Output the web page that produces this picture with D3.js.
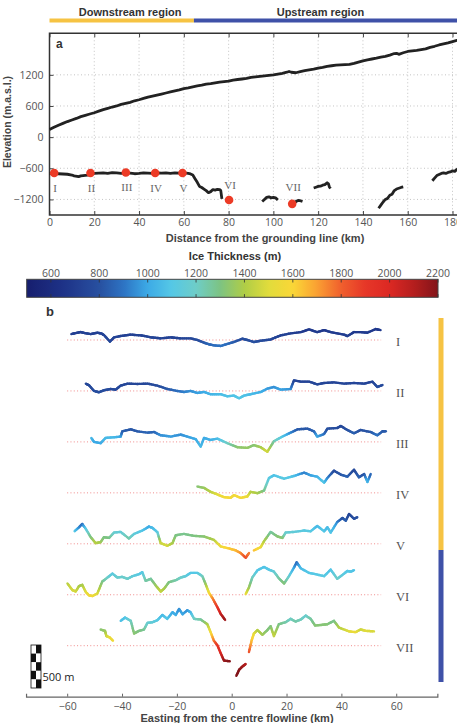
<!DOCTYPE html>
<html><head><meta charset="utf-8">
<script src="https://cdn.jsdelivr.net/npm/d3@7"></script>
<style>body{margin:0;background:#fff}svg{display:block}</style>
</head><body><svg id="c" width="457" height="723"></svg>
<script>
// ---------------- DATA ----------------
const distTicks = [0,20,40,60,80,100,120,140,160,180];
const elevTicks = [-1200,-600,0,600,1200];
const thickTicks = [600,800,1000,1200,1400,1600,1800,2000,2200];
const eastTicks = [-60,-40,-20,0,20,40,60];

const regionNames = ["Downstream region","Upstream region"];
const regionStartKm = [0,64.5];
const regionEndKm = [64.5,184];
const regionLabelKm = [36,121];
const regionColors = ["#f6c343","#3f51a8"];

// surface elevation (km, m a.s.l.)
const surface = [[0,146],[2,190],[4,230],[6,265],[8,300],[10,330],[12,360],[14,395],[16,420],[18,445],[20,470],[22,500],[24,530],[26,555],[28,580],[30,600],[32,630],[34,650],[36,670],[38,700],[40,720],[42,745],[44,770],[46,790],[48,810],[50,830],[52,850],[54,870],[56,890],[58,910],[60,935],[62,950],[64,970],[66,985],[68,1000],[70,1020],[72,1030],[74,1045],[76,1060],[78,1070],[80,1080],[82,1100],[84,1110],[86,1120],[88,1130],[90,1150],[92,1160],[94,1170],[96,1180],[98,1190],[100,1200],[102,1215],[104,1230],[106,1250],[107,1265],[108,1250],[110,1240],[112,1260],[114,1280],[116,1295],[118,1310],[120,1330],[122,1345],[124,1365],[126,1375],[128,1385],[130,1390],[132,1395],[134,1400],[136,1420],[138,1445],[140,1470],[142,1490],[144,1505],[146,1520],[148,1540],[150,1555],[152,1580],[154,1610],[155,1615],[156,1595],[158,1625],[160,1650],[162,1660],[164,1670],[166,1685],[168,1700],[170,1730],[172,1750],[174,1775],[176,1795],[178,1815],[180,1840],[182,1865],[184,1880]];

// bed elevation segments (km, m a.s.l.)
const bed1 = [[0,-700],[2,-700],[4,-705],[6,-710],[8,-715],[10,-730],[11,-745],[13,-760],[14,-745],[15,-740],[17,-730],[19,-710],[20,-700],[22,-695],[24,-690],[26,-700],[28,-685],[30,-690],[32,-700],[34,-690],[36,-695],[38,-705],[40,-700],[42,-690],[44,-695],[46,-700],[48,-690],[50,-695],[52,-690],[54,-700],[56,-690],[58,-695],[60,-690],[62,-700],[63,-710],[64,-730],[65,-800],[66,-870],[67,-950],[68,-970],[69,-1000],[70,-1030],[71,-1070],[72,-1050],[73,-1010],[74,-1020],[75,-1005],[76,-1010],[76.5,-1030],[77,-1190]];
const bed2 = [[95,-1240],[96,-1200],[97,-1160],[98,-1150],[99,-1170],[100,-1160],[101,-1170],[102,-1210]];
const bed3 = [[108.8,-1280],[109.5,-1260],[110.3,-1235],[111,-1220],[112,-1225],[113,-1240]];
const bed4 = [[118,-980],[119,-965],[120,-950],[121,-945],[122,-925],[123,-915],[124,-880],[124.6,-900],[125,-960],[125.5,-990]];
const bed5 = [[147,-1370],[148,-1310],[149,-1250],[150,-1200],[151,-1180],[152,-1120],[153,-1100],[154,-1030],[155,-1000],[156,-985],[157,-970],[158,-960]];
const bed6 = [[171,-840],[172,-790],[173,-740],[174,-720],[175,-700],[176,-690],[177,-700],[178,-680],[179,-670],[180,-650],[181,-660],[182,-620],[184,-600]];

const sites = ["I","II","III","IV","V","VI","VII"];
const siteKm = [2.1,18.3,34.1,47.2,59.4,80.2,108.4];
const siteElev = [-690,-690,-680,-690,-690,-1210,-1285];

// profiles: segments of [easting km, relief m, ice thickness m]
const profI = [[[-58.5,69,720],[-57,80,720],[-55.1,92,720],[-53.5,80,725],[-51.4,69,730],[-49.0,85,720],[-47.5,75,730],[-46.6,58,740],[-44.4,-19,760],[-42.9,31,740],[-40.5,46,730],[-38.5,55,725],[-36.8,62,720],[-33.2,54,730],[-31.5,45,735],[-29.5,31,740],[-27.5,25,740],[-25.9,19,740],[-22.2,31,730],[-20.5,25,735],[-18.6,19,740],[-15.0,19,750],[-12.5,0,780],[-10.1,-31,820],[-8.3,-50,860],[-6.5,-62,880],[-4.0,-69,900],[-1.6,-46,880],[0.8,-23,840],[3.9,15,780],[5.7,0,790],[8.1,-23,800],[10.6,-8,780],[14.2,6,760],[16,30,745],[17.9,54,730],[21.5,77,720],[25.2,92,700],[28.2,123,680],[31.2,92,700],[33.7,115,680],[36.1,92,700],[38.5,77,700],[41.0,62,710],[42.2,46,720],[44.6,92,690],[47.0,92,690],[49.5,85,700],[52.5,127,680],[54.3,115,690]]];
const profII = [[[-53.2,85,760],[-52.0,65,760],[-50.2,0,780],[-48.4,-15,790],[-46.6,8,780],[-44.1,23,770],[-42.3,15,770],[-40.5,62,760],[-38.0,85,750],[-34.4,81,750],[-30.7,85,760],[-27.1,62,780],[-23.5,23,820],[-19.8,0,880],[-17.4,-12,920],[-15.0,0,950],[-12.5,-23,980],[-10.1,-12,1000],[-7.7,-38,1030],[-4.0,-38,1060],[-1.6,-62,1080],[0.8,-54,1080],[2.7,-85,1100],[4.5,-54,1080],[6.9,-38,1060],[10.6,-12,1020],[13.0,27,980],[15.4,46,950],[17.9,15,990],[21.5,23,960],[22.7,123,760],[25.2,108,740],[28.2,108,740],[31.2,77,760],[33.7,92,750],[37.3,100,740],[41.0,85,750],[44.6,92,750],[48.3,85,750],[51.3,108,740],[53.1,46,790],[55.0,69,770]]];
const profIII = [[[-51.2,46,1050],[-50.2,0,1000],[-47.8,-15,1000],[-46.0,46,1050],[-42.9,54,1050],[-40.5,62,1000],[-39.9,123,850],[-36.8,146,820],[-34.4,123,830],[-30.7,108,860],[-28.3,115,860],[-25.9,77,950],[-22.2,62,980],[-18.6,85,950],[-16.2,62,980],[-13.1,31,1000],[-11.3,-54,1050],[-10.1,46,1000],[-7.7,23,1020],[-5.2,38,1050],[-1.6,-15,1200],[2.1,-62,1330],[5.7,-69,1350],[8.1,-38,1320],[10.6,-62,1380],[13.0,-115,1480],[15.4,8,1250],[18.5,62,1100],[21.5,108,950],[24.0,146,830],[27.6,154,820],[30.0,123,850],[31.2,62,1000],[33.7,92,900],[34.9,154,800],[38.5,162,790],[39.8,185,760],[42.2,138,800],[44.6,100,850],[47.0,138,800],[50.7,115,820],[53.1,77,900],[55.0,123,830],[56.2,123,830]]];
const profIV = [[[-12.5,73,1320],[-10.1,58,1350],[-7.7,12,1420],[-5.2,-19,1500],[-2.8,-50,1560],[-0.4,-58,1580],[0.8,-27,1560],[3.3,-58,1580],[5.7,-42,1550],[6.9,12,1420],[9.4,-4,1400],[11.8,27,1300],[13.6,173,1120],[15.4,204,1080],[19.1,165,1120],[22.7,196,1080],[26.4,235,920],[28.8,204,980],[31.2,188,1020],[33.7,119,1100],[34.9,173,950],[37.3,258,780],[39.8,212,820],[42.2,188,860],[44.6,269,760],[46.4,181,850],[48.3,219,800],[49.5,127,1050],[50.7,219,850]]];
const profV = [
 [[-57.3,146,1120],[-55.7,192,950],[-54.5,231,880],[-53.2,173,1100],[-51.4,77,1300],[-49.6,8,1420],[-47.8,19,1380],[-46.6,77,1300],[-44.7,69,1300],[-42.9,131,1180],[-40.5,138,1150],[-37.5,62,1250],[-35.6,115,1150],[-32.6,154,1100],[-30.2,200,1000],[-28.9,185,1050],[-27.1,135,1100],[-25.9,8,1450],[-23.5,-23,1480],[-21.6,8,1400],[-20.4,100,1300],[-17.4,115,1280],[-13.7,92,1300],[-10.1,85,1320],[-6.5,46,1400],[-4.0,-31,1550],[-1.0,-54,1620],[1.5,-77,1650],[3.3,-108,1720],[5.1,-162,1850],[6.3,-108,1750]],
 [[8.1,-77,1650],[10.6,-38,1550],[11.8,31,1420],[14.2,138,1250],[16.7,85,1320],[18.5,69,1330],[19.7,131,1180],[22.7,138,1150],[26.4,154,1120],[28.8,146,1120],[31.2,208,1050],[33.7,146,1100],[34.9,192,1050],[36.1,131,1100],[38.5,254,950],[40.4,300,800],[41.6,269,850],[42.8,346,750],[44.6,292,800],[45.8,308,800]]];
const profVI = [
 [[-59.9,131,1420],[-58.1,54,1480],[-56.9,38,1480],[-55.7,100,1400],[-54.5,115,1380],[-53.2,31,1500],[-52.0,-8,1560],[-50.8,-15,1560],[-49.0,15,1500],[-47.2,154,1300],[-45.3,200,1200],[-43.5,246,1120],[-41.7,200,1180],[-39.9,208,1180],[-38.0,185,1200],[-36.2,216,1150],[-33.8,239,1120],[-32.6,262,1100],[-31.4,162,1250],[-29.5,185,1250],[-27.7,108,1350],[-25.9,38,1450],[-24.7,69,1400],[-22.9,146,1300],[-20.4,169,1250],[-18.6,200,1200],[-16.8,216,1150],[-15.0,254,1100],[-12.5,254,1100],[-10.7,216,1200],[-9.5,123,1350],[-8.3,23,1550],[-7.0,-40,1720],[-5.2,-146,1900],[-4.0,-223,2050],[-2.4,-292,2150]],
 [[5.1,8,1550],[6.3,85,1380],[7.5,200,1220],[9.4,285,1100],[11.8,323,1080],[13.6,292,1100],[15.4,269,1150],[17.2,192,1250],[19.1,131,1320],[20.9,216,1180],[22.7,315,1000],[23.7,377,880],[25.2,308,1050],[28.2,254,1100],[30.6,239,1100],[33.7,216,1120],[36.1,292,1080],[38.5,185,1200],[41.0,246,1120],[42.2,277,1100],[43.4,269,1100],[44.6,285,1080]]];
const profVII = [
 [[-47.8,188,1320],[-46.2,173,1350],[-45.7,112,1450],[-44.5,96,1520],[-43.3,58,1560]],
 [[-40.5,289,1080],[-38.9,327,1080],[-36.8,289,1200],[-35.6,142,1330],[-33.8,173,1300],[-32.0,188,1280],[-30.7,266,1180],[-28.9,273,1150],[-27.1,297,1120],[-25.3,358,1050],[-23.5,312,1100],[-21.6,389,1000],[-20.4,358,1020],[-19.2,427,950],[-17.9,366,1000],[-16.2,412,960],[-15.0,389,1020],[-13.7,312,1200],[-11.3,304,1250],[-8.9,251,1380],[-7.7,158,1550],[-6.5,58,1750],[-5.2,4,1900],[-4.0,-89,2000],[-2.8,-173,2150],[-0.7,-181,2200]],
 [[1.7,-350,2200],[2.7,-281,2200],[3.9,-242,2150],[5.1,-212,2100]],
 [[6.3,-73,1850],[7.3,65,1650],[8.1,142,1530],[9.4,181,1420],[11.2,127,1380],[13.0,181,1320],[14.2,227,1300],[15.4,112,1450],[17.2,250,1300],[19.7,274,1250],[21.5,312,1200],[23.3,281,1250],[25.2,304,1220],[27.0,350,1180],[28.8,312,1250],[30.4,235,1320],[33.1,243,1320],[34.9,250,1320],[37.3,289,1280],[39.1,212,1400],[42.8,166,1500],[45.2,158,1550],[47.0,189,1450],[48.9,173,1500],[51.9,166,1480]]];
const profiles = [profI,profII,profIII,profIV,profV,profVI,profVII];

// jet-like colormap stops
const cmapValues = [500,650,800,900,1000,1100,1200,1300,1400,1500,1600,1700,1800,1900,2000,2100,2200];
const cmapColors = ["#161e6e","#1e3287","#2850a0","#2d73c3","#3caae6","#55c8e6","#6ecdc8","#7dc382","#afcd46","#e1dc3c","#fad737","#faa032","#f05f2d","#e63728","#dc2823","#b41e1e","#821419"];

// ---------------- DRAW ----------------
const svg = d3.select("#c");
const tickFont = "'Open Sans', 'DejaVu Sans', sans-serif";
const boldFont = "'Liberation Sans', Arial, sans-serif";
const color = d3.scaleLinear().domain(cmapValues).range(cmapColors).interpolate(d3.interpolateRgb).clamp(true);
const numFmt = d3.format("d");

// Panel a scales
const xA = d3.scaleLinear().domain([0,184]).range([49.5, 49.5+184*2.2389]);
const yA = d3.scaleLinear().domain([-1500,2000]).range([215,33.3]);

// region bar
const gReg = svg.append("g");
regionNames.forEach((n,i)=>{
  gReg.append("rect").attr("x",xA(regionStartKm[i])).attr("y",18.5)
    .attr("width",xA(regionEndKm[i])-xA(regionStartKm[i])).attr("height",4).attr("fill",regionColors[i]);
  gReg.append("text").attr("x",xA(regionLabelKm[i])).attr("y",16).attr("text-anchor","middle")
    .attr("font-family",boldFont).attr("font-weight","bold").attr("font-size",11).attr("fill","#333").text(n);
});

// grid
const gA = svg.append("g");
gA.selectAll(".gx").data(distTicks).join("line").attr("x1",d=>xA(d)).attr("x2",d=>xA(d))
  .attr("y1",33.3).attr("y2",215).attr("stroke","#b5b5b5").attr("stroke-width",0.8).attr("stroke-dasharray","1,2.5");
gA.selectAll(".gy").data(elevTicks).join("line").attr("y1",d=>yA(d)).attr("y2",d=>yA(d))
  .attr("x1",49.5).attr("x2",470).attr("stroke","#b5b5b5").attr("stroke-width",0.8).attr("stroke-dasharray","1,2.5");

// axes
function styleAxis(g){
  g.select(".domain").remove();
  g.selectAll("line").attr("stroke","#444");
  g.selectAll("text").attr("font-family",tickFont).attr("font-size",10.5).attr("fill","#555");
}
gA.append("g").attr("transform","translate(0,215)").call(d3.axisBottom(xA).tickValues(distTicks).tickSize(-4).tickPadding(4).tickFormat(numFmt)).call(styleAxis);
gA.append("g").attr("transform","translate(0,33.3)").call(d3.axisTop(xA).tickValues(distTicks).tickSize(-4).tickFormat("")).call(styleAxis);
gA.append("g").attr("transform","translate(49.5,0)").call(d3.axisLeft(yA).tickValues(elevTicks).tickSize(-4).tickPadding(6).tickFormat(numFmt)).call(styleAxis);

// frame
gA.append("path").attr("d",`M470,33.3H49.5V215H470`).attr("fill","none").attr("stroke","#333").attr("stroke-width",1.5);

// lines
const lineA = d3.line().x(d=>xA(d[0])).y(d=>yA(d[1]));
[surface,bed1,bed2,bed3,bed4,bed5,bed6].forEach(s=>{
  gA.append("path").attr("d",lineA(s)).attr("fill","none").attr("stroke","#222").attr("stroke-width",2.8).attr("stroke-linejoin","round");
});
// sites
gA.selectAll(".site").data(sites).join("circle").attr("cx",(d,i)=>xA(siteKm[i])).attr("cy",(d,i)=>yA(siteElev[i]))
  .attr("r",4.3).attr("fill","#ec3b26");
const siteDy = [15,15,15,15,15,-15,-17];
gA.selectAll(".sl").data(sites).join("text").attr("x",(d,i)=>xA(siteKm[i])+1).attr("y",(d,i)=>yA(siteElev[i])+siteDy[i])
  .attr("dy","0.35em").attr("text-anchor","middle").attr("font-family","'Liberation Serif','DejaVu Serif',serif")
  .attr("font-size",11).attr("fill","#666").text(d=>d);

gA.append("text").attr("x",56).attr("y",48).attr("font-family",boldFont).attr("font-weight","bold").attr("font-size",12).attr("fill","#333").text("a");
gA.append("text").attr("x",265).attr("y",241.5).attr("text-anchor","middle").attr("font-family",boldFont).attr("font-weight","bold").attr("font-size",11).attr("fill","#444").text("Distance from the grounding line (km)");
gA.append("text").attr("transform","translate(11,122) rotate(-90)").attr("text-anchor","middle").attr("font-family",boldFont).attr("font-weight","bold").attr("font-size",10.5).attr("fill","#444").text("Elevation (m.a.s.l.)");

// colorbar
const cbX = d3.scaleLinear().domain([500,2200]).range([26.7,438]);
const defs = svg.append("defs");
const grad = defs.append("linearGradient").attr("id","cb").attr("x1","0%").attr("x2","100%");
d3.range(0,101).forEach(i=>{
  const v = 500 + (2200-500)*i/100;
  grad.append("stop").attr("offset",i+"%").attr("stop-color",color(v));
});
const gC = svg.append("g");
gC.append("rect").attr("x",cbX(500)).attr("y",279.3).attr("width",cbX(2200)-cbX(500)).attr("height",18).attr("fill","url(#cb)").attr("stroke","#444").attr("stroke-width",1);
gC.selectAll(".ct").data(thickTicks).join("text").attr("x",d=>cbX(d)).attr("y",273.5).attr("dy","0.35em").attr("text-anchor","middle")
  .attr("font-family",tickFont).attr("font-size",10.5).attr("fill","#555").text(d=>d);
gC.selectAll(".ctt").data(thickTicks).join("line").attr("x1",d=>cbX(d)).attr("x2",d=>cbX(d)).attr("y1",279.3).attr("y2",282.5).attr("stroke","#333").attr("stroke-width",0.8);
gC.selectAll(".ctb").data(thickTicks).join("line").attr("x1",d=>cbX(d)).attr("x2",d=>cbX(d)).attr("y1",297.3).attr("y2",294.1).attr("stroke","#333").attr("stroke-width",0.8);
gC.append("text").attr("x",235).attr("y",260).attr("text-anchor","middle").attr("font-family",boldFont).attr("font-weight","bold").attr("font-size",11).attr("fill","#333").text("Ice Thickness (m)");

// Panel b
const xB = d3.scaleLinear().domain([-75,75]).range([231.7-75*2.742, 231.7+75*2.742]);
const baseY = d3.scalePoint().domain(sites).range([340,645.7]);
const mPx = 43/500; // px per metre
const gB = svg.append("g");
gB.append("text").attr("x",46).attr("y",316).attr("font-family",boldFont).attr("font-weight","bold").attr("font-size",13).attr("fill","#333").text("b");

sites.forEach((s,k)=>{
  const by = baseY(s);
  gB.append("line").attr("x1",xB(-60)).attr("x2",xB(54.5)).attr("y1",by).attr("y2",by)
    .attr("stroke","#f08a8a").attr("stroke-width",1).attr("stroke-dasharray","1,2.3");
  gB.append("text").attr("x",396).attr("y",by+2).attr("dy","0.35em").attr("font-family","'Liberation Serif','DejaVu Serif',serif")
    .attr("font-size",12.5).attr("fill","#555").text(s);
  const n = 5;
  profiles[k].forEach(seg=>{
    for(let i=0;i<seg.length-1;i++){
      const a = seg[i], b = seg[i+1];
      for(let j=0;j<n;j++){
        const t0=j/n, t1=(j+1)/n, tm=(j+0.5)/n;
        const e0=a[0]+(b[0]-a[0])*t0, e1=a[0]+(b[0]-a[0])*t1;
        const r0=a[1]+(b[1]-a[1])*t0, r1=a[1]+(b[1]-a[1])*t1;
        const th=a[2]+(b[2]-a[2])*tm;
        gB.append("line").attr("x1",xB(e0)).attr("x2",xB(e1)).attr("y1",by-r0*mPx).attr("y2",by-r1*mPx)
          .attr("stroke",color(th)).attr("stroke-width",2.4).attr("stroke-linecap","round");
      }
    }
  });
});

// region bar on right
const regTop = [318,550], regBot = [550,682];
[0,1].forEach(i=>{
  gB.append("rect").attr("x",438.5).attr("y",regTop[i]).attr("width",5).attr("height",regBot[i]-regTop[i]).attr("fill",regionColors[i]);
});

// scale bar
const sbX = 31, sbW = 10, sbTop = 645, sbH = 500*mPx;
const rows = 5;
for(let r=0;r<rows;r++){
  for(let c=0;c<2;c++){
    const black = (r+c)%2===1;
    gB.append("rect").attr("x",sbX+c*sbW/2).attr("y",sbTop+r*sbH/rows).attr("width",sbW/2).attr("height",sbH/rows).attr("fill",black?"#111":"#fff");
  }
}
gB.append("rect").attr("x",sbX).attr("y",sbTop).attr("width",sbW).attr("height",sbH).attr("fill","none").attr("stroke","#111").attr("stroke-width",0.8);
gB.append("text").attr("x",42.5).attr("y",681).attr("font-family",tickFont).attr("font-size",11).attr("fill","#222").text("500 m");

// x axis panel b
const axB = gB.append("g").attr("transform","translate(0,696.7)").call(d3.axisBottom(xB).tickValues(eastTicks).tickSize(-3).tickPadding(6).tickFormat(numFmt));
axB.select(".domain").attr("stroke","#666").attr("stroke-width",1.2);
axB.selectAll("line").attr("stroke","#666");
axB.selectAll("text").attr("font-family",tickFont).attr("font-size",10.5).attr("fill","#555");
gB.append("text").attr("x",237).attr("y",722).attr("text-anchor","middle").attr("font-family",boldFont).attr("font-weight","bold").attr("font-size",11).attr("fill","#444").text("Easting from the centre flowline (km)");
</script></body></html>
